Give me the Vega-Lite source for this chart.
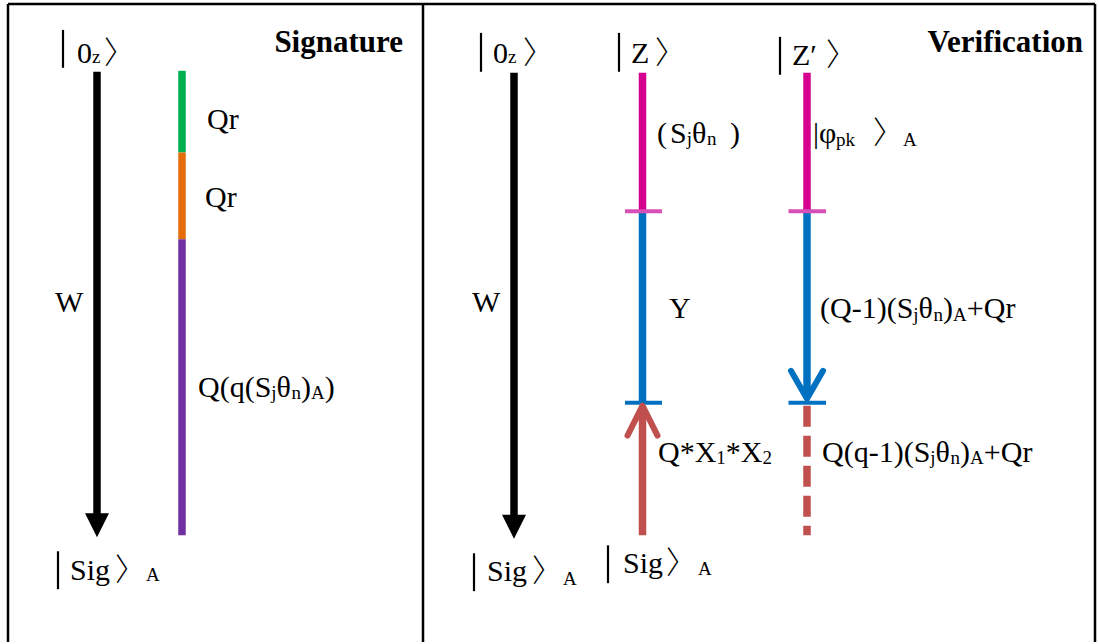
{
  "$schema": "https://vega.github.io/schema/vega-lite/v6.json",
  "width": 1099,
  "height": 644,
  "autosize": {"type": "fit", "contains": "padding"},
  "padding": 0,
  "background": "white",
  "config": {"view": {"stroke": null}},
  "datasets": {
    "frame": [
      {"x": 8, "y": 4, "x2": 1095, "y2": 4},
      {"x": 8, "y": 4, "x2": 8, "y2": 644},
      {"x": 423, "y": 4, "x2": 423, "y2": 644},
      {"x": 1095, "y": 4, "x2": 1095, "y2": 644}
    ],
    "segments": [
      {"x": 97, "y": 72, "y2": 518, "part": "black"},
      {"x": 182, "y": 71, "y2": 153, "part": "green"},
      {"x": 182, "y": 153, "y2": 240, "part": "orange"},
      {"x": 182, "y": 240, "y2": 537, "part": "purple"},
      {"x": 514, "y": 73, "y2": 519, "part": "black"},
      {"x": 642.5, "y": 73, "y2": 212, "part": "magenta"},
      {"x": 642.5, "y": 212, "y2": 404, "part": "blue"},
      {"x": 642.5, "y": 410, "y2": 537, "part": "red"},
      {"x": 807, "y": 73, "y2": 212, "part": "magenta"},
      {"x": 807, "y": 212, "y2": 398, "part": "blue"}
    ],
    "dashed": [
      {"x": 807, "y": 407, "y2": 537, "part": "red"}
    ],
    "ticks": [
      {"x": 625, "x2": 662, "y": 212, "part": "magenta tick"},
      {"x": 788.5, "x2": 826, "y": 212, "part": "magenta tick"},
      {"x": 625, "x2": 662, "y": 404, "part": "blue"},
      {"x": 788.5, "x2": 826, "y": 404, "part": "blue"}
    ],
    "heads": [
      {"x": 97, "y": 527},
      {"x": 514, "y": 528.5}
    ],
    "upchev": [
      {"x": 642.5, "y": 422, "part": "red"}
    ],
    "downchev": [
      {"x": 807, "y": 386, "part": "blue"}
    ],
    "ketbars": [
      {"x": 63, "y": 30, "y2": 68},
      {"x": 58, "y": 553, "y2": 591},
      {"x": 481, "y": 33, "y2": 72},
      {"x": 619, "y": 33, "y2": 72},
      {"x": 780, "y": 37, "y2": 75},
      {"x": 474, "y": 555, "y2": 593},
      {"x": 608, "y": 547, "y2": 585}
    ],
    "brackets": [
      {"x": 104, "y": 63, "t": "〉"},
      {"x": 115, "y": 582, "t": "〉"},
      {"x": 523, "y": 63, "t": "〉"},
      {"x": 655, "y": 63, "t": "〉"},
      {"x": 826, "y": 65, "t": "〉"},
      {"x": 873, "y": 143, "t": "〉"},
      {"x": 532, "y": 583, "t": "〉"},
      {"x": 666, "y": 575, "t": "〉"}
    ],
    "maintext": [
      {"x": 77, "y": 63, "t": "0"},
      {"x": 207, "y": 129, "t": "Qr"},
      {"x": 205, "y": 208, "t": "Qr"},
      {"x": 55, "y": 313, "t": "W"},
      {"x": 198, "y": 398, "t": "Q(q(S"},
      {"x": 276.6, "y": 398, "t": "θ"},
      {"x": 301.1, "y": 398, "t": ")"},
      {"x": 324.8, "y": 398, "t": ")"},
      {"x": 70, "y": 582, "t": "Sig"},
      {"x": 493, "y": 63, "t": "0"},
      {"x": 631, "y": 63, "t": "Z"},
      {"x": 792, "y": 65, "t": "Z′"},
      {"x": 472, "y": 313, "t": "W"},
      {"x": 657, "y": 143, "t": "("},
      {"x": 670, "y": 143, "t": "S"},
      {"x": 692, "y": 143, "t": "θ"},
      {"x": 730, "y": 143, "t": ")"},
      {"x": 813, "y": 143, "t": "|"},
      {"x": 819, "y": 143, "t": "φ"},
      {"x": 669, "y": 319, "t": "Y"},
      {"x": 820, "y": 319, "t": "(Q-1)(S"},
      {"x": 918.6, "y": 319, "t": "θ"},
      {"x": 943.1, "y": 319, "t": ")"},
      {"x": 966.8, "y": 319, "t": "+Qr"},
      {"x": 658, "y": 463, "t": "Q*X"},
      {"x": 725.8, "y": 463, "t": "*X"},
      {"x": 822, "y": 463, "t": "Q(q-1)(S"},
      {"x": 935.6, "y": 463, "t": "θ"},
      {"x": 960.1, "y": 463, "t": ")"},
      {"x": 983.8, "y": 463, "t": "+Qr"},
      {"x": 487, "y": 583, "t": "Sig"},
      {"x": 623, "y": 575, "t": "Sig"}
    ],
    "subtext": [
      {"x": 92, "y": 63, "t": "z"},
      {"x": 271.3, "y": 400, "t": "j"},
      {"x": 291.6, "y": 400, "t": "n"},
      {"x": 311.1, "y": 400, "t": "A"},
      {"x": 146, "y": 583, "t": "A"},
      {"x": 508, "y": 63, "t": "z"},
      {"x": 686.7, "y": 145, "t": "j"},
      {"x": 707, "y": 145, "t": "n"},
      {"x": 836, "y": 146, "t": "pk"},
      {"x": 903, "y": 146, "t": "A"},
      {"x": 913.3, "y": 322, "t": "j"},
      {"x": 933.6, "y": 322, "t": "n"},
      {"x": 953.1, "y": 322, "t": "A"},
      {"x": 716.3, "y": 465, "t": "1"},
      {"x": 762.5, "y": 465, "t": "2"},
      {"x": 930.3, "y": 465, "t": "j"},
      {"x": 950.6, "y": 465, "t": "n"},
      {"x": 970.1, "y": 465, "t": "A"},
      {"x": 563, "y": 587, "t": "A"},
      {"x": 698, "y": 577, "t": "A"}
    ],
    "titles": [
      {"x": 403, "y": 52, "t": "Signature"},
      {"x": 1083, "y": 52, "t": "Verification"}
    ]
  },
  "encoding": {
    "x": {"field": "x", "type": "quantitative", "axis": null, "scale": {"domain": [0, 1099], "nice": false, "zero": false}},
    "y": {"field": "y", "type": "quantitative", "axis": null, "scale": {"domain": [0, 644], "nice": false, "zero": false, "reverse": true}}
  },
  "layer": [
    {
      "data": {"name": "frame"},
      "mark": {"type": "rule", "color": "#000000", "strokeWidth": 2.5},
      "encoding": {"x2": {"field": "x2"}, "y2": {"field": "y2"}}
    },
    {
      "data": {"name": "segments"},
      "mark": {"type": "rule", "strokeWidth": 7.5},
      "encoding": {
        "y2": {"field": "y2"},
        "color": {"field": "part", "type": "nominal", "legend": null,
          "scale": {"domain": ["black", "green", "orange", "purple", "magenta", "magenta tick", "blue", "red"],
                    "range": ["#000000", "#00B050", "#E46C0A", "#7030A0", "#D6008F", "#D94FB8", "#0070C0", "#C0504D"]}}
      }
    },
    {
      "data": {"name": "dashed"},
      "mark": {"type": "rule", "strokeWidth": 7.5, "strokeDash": [21, 9]},
      "encoding": {
        "y2": {"field": "y2"},
        "color": {"field": "part", "type": "nominal", "legend": null,
          "scale": {"domain": ["black", "green", "orange", "purple", "magenta", "magenta tick", "blue", "red"],
                    "range": ["#000000", "#00B050", "#E46C0A", "#7030A0", "#D6008F", "#D94FB8", "#0070C0", "#C0504D"]}}
      }
    },
    {
      "data": {"name": "ticks"},
      "mark": {"type": "rule", "strokeWidth": 4},
      "encoding": {
        "x2": {"field": "x2"},
        "color": {"field": "part", "type": "nominal", "legend": null,
          "scale": {"domain": ["black", "green", "orange", "purple", "magenta", "magenta tick", "blue", "red"],
                    "range": ["#000000", "#00B050", "#E46C0A", "#7030A0", "#D6008F", "#D94FB8", "#0070C0", "#C0504D"]}}
      }
    },
    {
      "data": {"name": "heads"},
      "mark": {"type": "point", "shape": "M-1,-1L1,-1L0,1Z", "size": 576, "filled": true, "color": "#000000", "opacity": 1}
    },
    {
      "data": {"name": "upchev"},
      "mark": {"type": "point", "shape": "M-1,1L0,-1L1,1", "size": 900, "filled": false, "strokeWidth": 6, "strokeCap": "round", "strokeJoin": "round", "opacity": 1},
      "encoding": {
        "color": {"field": "part", "type": "nominal", "legend": null,
          "scale": {"domain": ["black", "green", "orange", "purple", "magenta", "magenta tick", "blue", "red"],
                    "range": ["#000000", "#00B050", "#E46C0A", "#7030A0", "#D6008F", "#D94FB8", "#0070C0", "#C0504D"]}}
      }
    },
    {
      "data": {"name": "downchev"},
      "mark": {"type": "point", "shape": "M-1,-0.875L0,0.875L1,-0.875", "size": 1024, "filled": false, "strokeWidth": 6, "strokeCap": "round", "strokeJoin": "round", "opacity": 1},
      "encoding": {
        "color": {"field": "part", "type": "nominal", "legend": null,
          "scale": {"domain": ["black", "green", "orange", "purple", "magenta", "magenta tick", "blue", "red"],
                    "range": ["#000000", "#00B050", "#E46C0A", "#7030A0", "#D6008F", "#D94FB8", "#0070C0", "#C0504D"]}}
      }
    },
    {
      "data": {"name": "ketbars"},
      "mark": {"type": "rule", "color": "#000000", "strokeWidth": 2.2},
      "encoding": {"y2": {"field": "y2"}}
    },
    {
      "data": {"name": "brackets"},
      "mark": {"type": "text", "align": "left", "baseline": "alphabetic", "font": "Noto Sans CJK JP", "fontWeight": 300, "fontSize": 31, "color": "#000000"},
      "encoding": {"text": {"field": "t"}}
    },
    {
      "data": {"name": "maintext"},
      "mark": {"type": "text", "align": "left", "baseline": "alphabetic", "font": "Times New Roman, Liberation Serif, serif", "fontSize": 30, "color": "#000000"},
      "encoding": {"text": {"field": "t"}}
    },
    {
      "data": {"name": "subtext"},
      "mark": {"type": "text", "align": "left", "baseline": "alphabetic", "font": "Times New Roman, Liberation Serif, serif", "fontSize": 19, "color": "#000000"},
      "encoding": {"text": {"field": "t"}}
    },
    {
      "data": {"name": "titles"},
      "mark": {"type": "text", "align": "right", "baseline": "alphabetic", "font": "Times New Roman, Liberation Serif, serif", "fontWeight": "bold", "fontSize": 31, "color": "#000000"},
      "encoding": {"text": {"field": "t"}}
    }
  ]
}
